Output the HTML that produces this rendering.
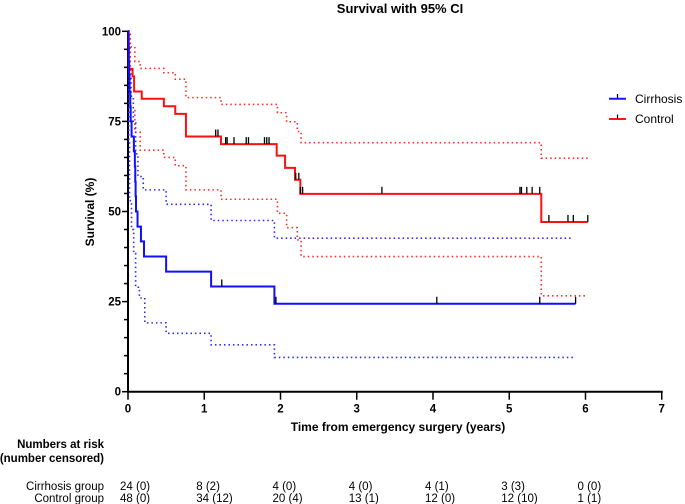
<!DOCTYPE html>
<html><head><meta charset="utf-8"><style>
body{margin:0;background:#fff;}
svg{display:block;font-family:"Liberation Sans",Arial,sans-serif;}
</style></head><body>
<svg id="chart" width="685" height="504" viewBox="0 0 685 504">
<text x="400" y="13" text-anchor="middle" font-size="13" font-weight="bold">Survival with 95% CI</text>
<text transform="translate(94,212) rotate(-90)" text-anchor="middle" font-size="12" font-weight="bold">Survival (%)</text>
<text x="398" y="431" text-anchor="middle" font-size="12" font-weight="bold">Time from emergency surgery  (years)</text>
<g id="axes"></g>
<g id="series"></g>
<g>
 <g><line x1="609" y1="98.7" x2="626" y2="98.7" stroke="#1515ff" stroke-width="2"/><line x1="617.5" y1="98" x2="617.5" y2="94" stroke="#000" stroke-width="1.2"/><text x="635" y="103" font-size="12">Cirrhosis</text></g>
 <g><line x1="609" y1="119" x2="626" y2="119" stroke="#ff1515" stroke-width="2"/><line x1="617.5" y1="118.5" x2="617.5" y2="114.5" stroke="#000" stroke-width="1.2"/><text x="635" y="123" font-size="12">Control</text></g>
</g>
<g font-size="11.5">
 <text x="104" y="448" text-anchor="end" font-weight="bold">Numbers at risk</text>
 <text x="104" y="462" text-anchor="end" font-weight="bold">(number censored)</text>
 <text x="104" y="490" text-anchor="end">Cirrhosis group</text>
 <text x="104" y="502" text-anchor="end">Control group</text>
 <g id="riskvals"></g>
</g>
</svg>
<script>
const yTicks=[0,25,50,75,100];
const xTicks=[0,1,2,3,4,5,6,7];
const ctrlT=[0,0.01,0.06,0.08,0.18,0.47,0.62,0.76,1.22,1.95,2.06,2.19,2.26,5.42];
const ctrlS=[100,89.6,87.5,83.3,81.3,79.2,77.1,70.8,68.7,65.5,62.1,58.8,54.9,47.1];
const ctrlEnd=6.03;
const ctrlUpT=[0,0.03,0.09,0.16,0.47,0.62,0.76,1.22,1.96,2.08,2.22,2.27,5.42];
const ctrlUpS=[100,95.7,91.6,89.7,88.5,86.7,81.6,79.7,77.4,74.9,72.2,69.1,64.8];
const ctrlLoT=[0,0.03,0.09,0.16,0.47,0.62,0.76,1.22,1.96,2.08,2.22,2.27,5.42];
const ctrlLoS=[100,78,72,67,65,62.7,56,53.4,49.5,45.5,42.1,37.5,26.6];
const ctrlCens=[1.15,1.18,1.28,1.30,1.39,1.55,1.58,1.79,1.82,1.85,2.20,2.24,2.26,2.29,3.33,5.14,5.16,5.23,5.30,5.40,5.52,5.77,5.84,6.03];
const cirT=[0,0.005,0.01,0.015,0.02,0.03,0.035,0.047,0.077,0.09,0.095,0.1,0.105,0.125,0.17,0.21,0.5,1.09,1.92];
const cirS=[100,95.8,91.7,87.5,83.3,79.2,75,70.8,66.7,62.5,58.3,54.2,50,45.8,41.7,37.5,33.3,29.2,24.4];
const cirEnd=5.87;
const cirUpT=[0,0.02,0.04,0.07,0.1,0.13,0.2,0.5,1.09,1.92];
const cirUpS=[100,90,82,74.6,66,59.7,56,52,47.5,42.6];
const cirLoT=[0,0.01,0.02,0.046,0.075,0.10,0.15,0.22,0.5,1.09,1.92];
const cirLoS=[100,70,53,45,38.4,29,26,19.1,16.2,13,9.5];
const cirCiEnd=5.84;
const cirCens=[1.23,1.94,4.05,5.40,5.87];
const riskYears=[0,1,2,3,4,5,6];
const riskCir=["24 (0)","8 (2)","4 (0)","4 (0)","4 (1)","3 (3)","0 (0)"];
const riskCtrl=["48 (0)","34 (12)","20 (4)","13 (1)","12 (0)","12 (10)","1 (1)"];

const NS="http://www.w3.org/2000/svg";
const X0=128,XW=76.25,Y0=391.7,YH=3.604;
const sx=t=>X0+t*XW, sy=v=>Y0-v*YH;
function mk(tag,attrs,parent){const e=document.createElementNS(NS,tag);for(const k in attrs)e.setAttribute(k,attrs[k]);parent.appendChild(e);return e;}
const axes=document.getElementById('axes');
const ya=mk('line',{x1:X0,y1:sy(100),x2:X0,y2:Y0+1,stroke:'#000','stroke-width':2},axes);


const xa=mk('line',{x1:X0-1,y1:Y0,x2:sx(7)+1,y2:Y0,stroke:'#000','stroke-width':2},axes);


for(let v=0;v<=100;v+=5){const maj=v%25===0;mk('line',{x1:X0-(maj?6:4),y1:sy(v),x2:X0,y2:sy(v),stroke:'#000','stroke-width':1.5},axes);}
yTicks.forEach(v=>{const t=mk('text',{x:121,y:sy(v)+4,'text-anchor':'end','font-size':11.5,'font-weight':'bold'},axes);t.textContent=v;

});
xTicks.forEach(v=>{mk('line',{x1:sx(v),y1:Y0,x2:sx(v),y2:Y0+8,stroke:'#000','stroke-width':1.5},axes);
const t=mk('text',{x:sx(v),y:Y0+21,'text-anchor':'middle','font-size':11.5,'font-weight':'bold'},axes);t.textContent=v;

});
function stepPath(T,S,end){let d='M'+sx(T[0])+','+sy(S[0]);for(let i=1;i<T.length;i++){d+='H'+sx(T[i])+'V'+sy(S[i]);}d+='H'+sx(end);return d;}
function valAt(T,S,t){let v=S[0];for(let i=0;i<T.length;i++){if(T[i]<=t)v=S[i];}return v;}
const g=document.getElementById('series');
function draw(T,S,end,color,dotted,name){const p=mk('path',{d:stepPath(T,S,end),fill:'none',stroke:color,'stroke-width':dotted?1.6:2},g);
if(dotted)p.setAttribute('stroke-dasharray','1.5 3');

}
draw(ctrlUpT,ctrlUpS,ctrlEnd,'#ff2a2a',true,'control-ci-upper');
draw(ctrlLoT,ctrlLoS,ctrlEnd,'#ff2a2a',true,'control-ci-lower');
draw(cirUpT,cirUpS,cirCiEnd,'#2a2aff',true,'cirrhosis-ci-upper');
draw(cirLoT,cirLoS,cirCiEnd,'#2a2aff',true,'cirrhosis-ci-lower');
draw(ctrlT,ctrlS,ctrlEnd,'#ff1010',false,'control-curve');
draw(cirT,cirS,cirEnd,'#1010ff',false,'cirrhosis-curve');
function cens(arr,T,S,name){arr.forEach(t=>{const v=valAt(T,S,t);const l=mk('line',{x1:sx(t),y1:sy(v),x2:sx(t),y2:sy(v)-7,stroke:'#000','stroke-width':1.3},g);

});}
cens(ctrlCens,ctrlT,ctrlS,'control-censor-mark');
cens(cirCens,cirT,cirS,'cirrhosis-censor-mark');
const rv=document.getElementById('riskvals');
riskYears.forEach((y,i)=>{const a=mk('text',{x:sx(y)-8,y:490},rv);a.textContent=riskCir[i];


const b=mk('text',{x:sx(y)-8,y:502},rv);b.textContent=riskCtrl[i];

});
</script>
</body></html>
